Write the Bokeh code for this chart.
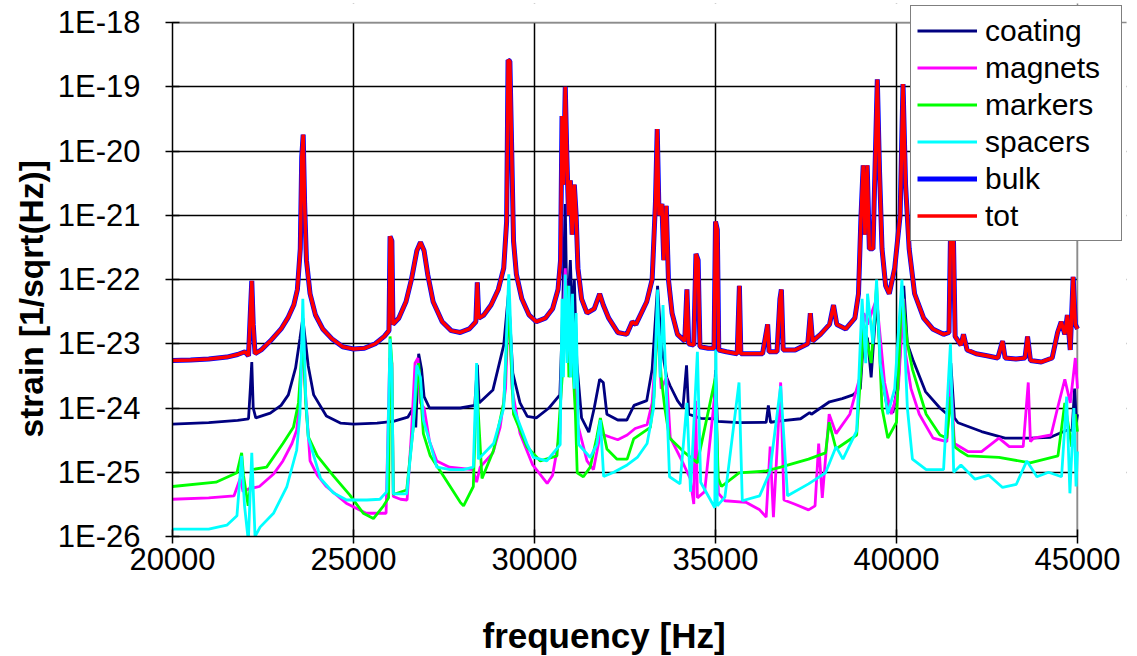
from bokeh.plotting import figure
from bokeh.models import (Range1d, FixedTicker, CustomJSTickFormatter, NumeralTickFormatter,
                          Legend, LegendItem, BoxAnnotation, Span, Title)
from bokeh.embed import file_html
from bokeh.resources import INLINE

# ---------------- data ----------------
tot_freq = [20000, 20500, 21000, 21500, 21800, 22000, 22100, 22150, 22190, 22230, 22280, 22450,
            22700, 23000, 23200, 23350, 23450, 23530, 23570, 23610, 23650, 23700, 23800, 23950,
            24150, 24400, 24700, 25000, 25300, 25600, 25850, 25980, 26010, 26060, 26090, 26250,
            26450, 26600, 26750, 26850, 26950, 27050, 27200, 27450, 27700, 27950, 28200, 28380,
            28420, 28460, 28600, 28800, 29000, 29150, 29230, 29270, 29320, 29360, 29420, 29500,
            29650, 29850, 30050, 30300, 30500, 30650, 30720, 30760, 30800, 30850, 30890, 30940,
            30990, 31040, 31100, 31150, 31200, 31300, 31450, 31650, 31800, 31900, 32050, 32300,
            32550, 32700, 32800, 32950, 33100, 33250, 33340, 33390, 33440, 33520, 33570, 33640,
            33700, 33800, 33950, 34150, 34210, 34260, 34400, 34460, 34520, 34570, 34800, 34960,
            35000, 35050, 35090, 35300, 35600, 35660, 35700, 36000, 36300, 36440, 36480, 36700,
            36780, 36820, 36870, 37200, 37550, 37620, 37680, 37900, 38150, 38260, 38350, 38600,
            38850, 38950, 39020, 39080, 39130, 39190, 39250, 39350, 39470, 39530, 39600, 39700,
            39800, 39950, 40100, 40180, 40250, 40350, 40500, 40750, 41000, 41300, 41450, 41500,
            41560, 41620, 41780, 41850, 41950, 42200, 42500, 42800, 42930, 43000, 43300, 43550,
            43620, 43700, 44000, 44300, 44450, 44550, 44650, 44720, 44800, 44880, 44940, 45000]
tot_vals = [5.5e-24, 5.6e-24, 5.8e-24, 6.2e-24, 6.8e-24, 7.5e-24, 6.5e-24, 3e-23, 9.5e-23, 2e-23, 7e-24, 8e-24,
            1.1e-23, 1.7e-23, 2.6e-23, 4e-23, 7e-23, 3e-22, 8e-21, 1.8e-20, 1.5e-21, 2e-22, 6e-23, 2.8e-23,
            1.7e-23, 1.2e-23, 9e-24, 8.3e-24, 8.5e-24, 1e-23, 1.3e-23, 1.6e-23, 4.7e-22, 4e-22, 2e-23, 2.5e-23,
            4.5e-23, 1e-22, 2.8e-22, 3.8e-22, 2.8e-22, 1.2e-22, 4.5e-23, 2.2e-23, 1.6e-23, 1.5e-23, 1.7e-23, 2.2e-23,
            9e-23, 2.5e-23, 2.8e-23, 4e-23, 7e-23, 1.5e-22, 8e-22, 2.6e-19, 2.5e-19, 2e-20, 4e-22, 1.2e-22,
            5e-23, 2.8e-23, 2.2e-23, 2.5e-23, 3.5e-23, 7e-23, 2e-22, 3.5e-20, 3e-21, 1e-19, 1e-20, 1e-21,
            3.5e-21, 5e-22, 3e-21, 1e-21, 1.5e-22, 5e-23, 3e-23, 3.5e-23, 6e-23, 4e-23, 2.5e-23, 1.5e-23,
            1.4e-23, 2.2e-23, 2e-23, 3e-23, 4.5e-23, 1e-22, 1.5e-21, 2.2e-20, 1e-21, 1.5e-21, 2e-22, 1.4e-21,
            1e-22, 3e-23, 1.4e-23, 1.1e-23, 7e-23, 1e-23, 9.5e-24, 2.5e-22, 2e-22, 9e-24, 8.5e-24, 8.5e-24,
            8e-22, 6e-22, 8e-24, 7.5e-24, 7e-24, 8e-23, 7e-24, 7e-24, 7e-24, 2e-23, 7.5e-24, 7.5e-24,
            5e-23, 7e-23, 8e-24, 8e-24, 1e-23, 3e-23, 1.1e-23, 1.4e-23, 2e-23, 4e-23, 2e-23, 1.7e-23,
            2.5e-23, 6e-23, 1e-21, 6e-21, 5e-22, 6e-21, 3e-22, 3e-22, 1.3e-19, 5e-21, 3e-22, 8e-23,
            6e-23, 1.5e-22, 1e-21, 1.1e-19, 3e-21, 3e-22, 6e-23, 2.5e-23, 1.7e-23, 1.4e-23, 1.5e-23, 1e-21,
            1.2e-21, 1.3e-23, 9.5e-24, 1.4e-23, 8e-24, 7e-24, 6.5e-24, 6e-24, 1.1e-23, 6e-24, 5.8e-24, 6e-24,
            1.3e-23, 5.5e-24, 5.2e-24, 6e-24, 1.5e-23, 2.2e-23, 1.4e-23, 2.8e-23, 8e-24, 1.1e-22, 2e-23, 1.7e-23]

# bulk coincides with tot everywhere in the picture (seen as the blue rim of the red curve)
bulk_freq = list(tot_freq)
bulk_vals = list(tot_vals)

coating_freq = [20000, 21000, 21800, 22100, 22150, 22190, 22230, 22300, 22700, 23000, 23200, 23400,
                23520, 23600, 23680, 23750, 23900, 24250, 24650, 25000, 25650, 26100, 26500, 26650,
                26720, 26800, 26880, 26950, 27100, 27950, 28350, 28420, 28470, 28850, 29150, 29280,
                29400, 29600, 29800, 30050, 30400, 30700, 30760, 30850, 30900, 30990, 31050, 31100,
                31170, 31300, 31500, 31650, 31800, 31900, 32000, 32300, 32550, 32750, 33100, 33250,
                33400, 33500, 33650, 33750, 33950, 34100, 34200, 34260, 34600, 34950, 35000, 35050,
                35650, 36400, 36460, 36520, 36800, 37350, 37600, 37650, 38150, 38500, 38800, 39000,
                39100, 39200, 39300, 39450, 39600, 39760, 39900, 40050, 40200, 40300, 40450, 40800,
                41200, 41400, 41500, 41600, 41700, 42350, 43000, 43700, 44250, 44700, 44850, 44920,
                44970, 45000]
coating_vals = [5.6e-25, 5.9e-25, 6.4e-25, 6.8e-25, 2e-24, 5.2e-24, 1e-24, 7e-25, 8.3e-25, 1.1e-24, 1.6e-24, 4.2e-24,
                1.2e-23, 2.5e-23, 1e-23, 4.5e-24, 1.6e-24, 7.5e-25, 5.8e-25, 5.6e-25, 5.8e-25, 6.2e-25, 7.2e-25, 1e-24,
                5e-25, 7e-24, 4e-24, 1.5e-24, 1e-24, 1e-24, 1.1e-24, 4.7e-24, 1.2e-24, 1.9e-24, 9.5e-24, 6e-23,
                3.5e-24, 1.2e-24, 7.4e-25, 7e-25, 1e-24, 1.6e-24, 1.5e-23, 1.5e-21, 2e-23, 2e-22, 2e-23, 1e-22,
                5e-24, 7e-25, 4.2e-25, 1e-24, 2.8e-24, 2.5e-24, 8e-25, 6.5e-25, 6.5e-25, 1.1e-24, 1.3e-24, 4e-24,
                8e-23, 1e-23, 3e-24, 2.2e-24, 1.3e-24, 1e-24, 4.6e-24, 8e-25, 6.9e-25, 6.8e-25, 3.9e-24, 6.2e-25,
                5.9e-25, 6e-25, 1.1e-24, 6e-25, 6.3e-25, 6.8e-25, 8.5e-25, 8e-25, 1.25e-24, 1.4e-24, 1.6e-24, 2e-24,
                1.5e-23, 1.2e-23, 3e-24, 5e-23, 3e-24, 9e-25, 8.5e-25, 2.5e-24, 8e-23, 1e-23, 5.7e-24, 1.8e-24,
                1e-24, 8e-25, 5e-24, 7e-25, 5.9e-25, 4.3e-25, 3.4e-25, 3.4e-25, 3.5e-25, 4.5e-25, 4.5e-25, 2e-24,
                6e-25, 8e-25]

magnets_freq = [20000, 21000, 21700, 21870, 21950, 22100, 22400, 22800, 23050, 23300, 23430, 23530,
                23600, 23680, 23800, 24000, 24250, 24800, 25350, 25900, 26000, 26060, 26100, 26300,
                26480, 26600, 26700, 26780, 26850, 26950, 27100, 27300, 27650, 28300, 28400, 28500,
                28850, 29050, 29200, 29290, 29380, 29600, 29950, 30350, 30500, 30700, 30760, 30850,
                30950, 31080, 31180, 31450, 31630, 31820, 32100, 32300, 32560, 32780, 33110, 33250,
                33400, 33500, 33650, 33750, 34100, 34300, 34400, 34450, 34500, 34700, 35000, 35080,
                35260, 35840, 36220, 36400, 36510, 36600, 36800, 36890, 37180, 37570, 37750, 37850,
                37950, 38140, 38330, 38710, 39000, 39100, 39200, 39450, 39670, 39860, 40050, 40200,
                40250, 40400, 40630, 41010, 41390, 41500, 41600, 41970, 42350, 42830, 43115, 43500,
                43640, 43700, 43790, 44270, 44450, 44650, 44800, 44940, 45000]
magnets_vals = [3.8e-26, 4e-26, 4.3e-26, 8e-26, 5e-26, 5.5e-26, 6e-26, 9.5e-26, 1.5e-25, 2.8e-25, 4.5e-25, 1.5e-24,
                1.5e-23, 1.5e-24, 1.5e-25, 9e-26, 6e-26, 3.3e-26, 2.3e-26, 2.3e-26, 6e-24, 5e-24, 4.2e-26, 3.8e-26,
                3.7e-26, 4e-25, 5e-24, 6e-24, 1.2e-24, 1e-24, 3e-25, 1.5e-25, 1.2e-25, 1.1e-25, 7e-26, 1.2e-25,
                2e-25, 5e-25, 2e-24, 6e-23, 2e-24, 4e-25, 1.3e-25, 6.7e-26, 9e-26, 4e-25, 1e-23, 1.5e-22,
                5e-24, 5.7e-24, 6e-25, 1.5e-25, 1.1e-25, 4e-25, 3.5e-25, 3.2e-25, 3.8e-25, 4.8e-25, 5.5e-25, 1.2e-24,
                2e-23, 2e-24, 3e-24, 3.5e-25, 1.4e-25, 8e-26, 3.2e-26, 1.3e-24, 4e-26, 5e-26, 2e-24, 4.7e-26,
                3.6e-26, 3.4e-26, 2.6e-26, 2e-26, 2.5e-25, 2e-26, 2.5e-24, 3.7e-26, 3.2e-26, 2.6e-26, 3e-26, 2.8e-25,
                4e-26, 8e-25, 4e-25, 8e-25, 3.2e-24, 3e-23, 2e-23, 5e-23, 2.5e-24, 8e-25, 2e-24, 5e-23,
                7e-24, 2e-24, 8e-25, 3.4e-25, 3e-25, 3e-24, 2.8e-25, 2.1e-25, 2.1e-25, 3.4e-25, 2.5e-25, 2.5e-25,
                2.5e-24, 3e-25, 3.4e-25, 3.8e-25, 1e-24, 2.8e-24, 1.2e-24, 6e-24, 2e-24]

markers_freq = [20000, 21200, 21780, 21910, 21960, 22090, 22200, 22600, 23050, 23340, 23480, 23600,
                23680, 23750, 24000, 24450, 24900, 25270, 25550, 25830, 25970, 26010, 26060, 26100,
                26470, 26650, 26800, 26930, 27120, 27480, 27950, 28040, 28310, 28400, 28550, 28870,
                29150, 29290, 29420, 29790, 30160, 30620, 30800, 30900, 30950, 31000, 31130, 31180,
                31350, 31540, 31720, 31820, 32000, 32280, 32560, 32740, 33200, 33300, 33400, 33500,
                33600, 33730, 34115, 34500, 35000, 35075, 35165, 35650, 36410, 36800, 37570, 38040,
                38140, 38330, 38900, 39100, 39300, 39450, 39600, 39760, 40000, 40150, 40300, 40440,
                40820, 41200, 41390, 41500, 41600, 41780, 41970, 42830, 43690, 44460, 44650, 44840,
                44940, 45000]
markers_vals = [6e-26, 7e-26, 9.8e-26, 2e-25, 9e-26, 3e-26, 1.1e-25, 1.2e-25, 2.8e-25, 5e-25, 1.2e-24, 1.2e-23,
                1.2e-24, 3.6e-25, 1.8e-25, 8.7e-26, 4.4e-26, 2.3e-26, 1.9e-26, 3e-26, 4e-26, 1.3e-23, 5e-24, 4.5e-26,
                5.3e-26, 5e-25, 5e-24, 4e-25, 1.8e-25, 8.8e-26, 3.4e-26, 3e-26, 6e-26, 2.5e-24, 8e-26, 2.2e-25,
                1.2e-24, 4e-23, 8e-25, 2.5e-25, 1.5e-25, 1.8e-25, 6e-24, 8e-23, 3e-24, 2e-23, 8e-25, 9.8e-26,
                8.5e-26, 1.2e-25, 3.5e-25, 7e-25, 2.3e-25, 1.6e-25, 1.6e-25, 3.3e-25, 5e-25, 1.5e-24, 2.5e-23, 3e-24,
                1e-24, 3.4e-25, 2.1e-25, 1.4e-25, 3e-24, 8e-26, 6e-26, 9.8e-26, 1.05e-25, 1.2e-25, 1.6e-25, 2e-25,
                6e-25, 2.3e-25, 3.8e-25, 2e-23, 5e-24, 8e-23, 1e-24, 3.4e-25, 6e-25, 7e-23, 1e-23, 4e-24,
                8e-25, 3.8e-25, 3.4e-25, 1.5e-24, 2.5e-25, 2.1e-25, 1.8e-25, 1.7e-25, 1.4e-25, 1.8e-25, 1.2e-24, 2.5e-25,
                8e-25, 4.3e-25]

spacers_freq = [20000, 21000, 21500, 21780, 21910, 21990, 22095, 22190, 22280, 22420, 22790, 23160,
                23430, 23520, 23600, 23680, 23750, 24090, 24440, 24810, 25370, 25730, 25920, 26010,
                26060, 26100, 26470, 26650, 26750, 26850, 26930, 27120, 27300, 27670, 28040, 28310,
                28400, 28450, 28870, 29150, 29290, 29420, 29790, 29970, 30340, 30710, 30760, 30800,
                30850, 30900, 30950, 31000, 31050, 31100, 31150, 31220, 31540, 31720, 31820, 31910,
                32190, 32560, 32840, 33110, 33290, 33400, 33470, 33550, 33640, 33730, 34020, 34210,
                34310, 34500, 34590, 34980, 35010, 35050, 35260, 35650, 35740, 36220, 36500, 36800,
                36990, 37570, 38040, 38330, 38520, 38900, 39050, 39150, 39200, 39350, 39450, 39550,
                39760, 39950, 40150, 40300, 40440, 40820, 41300, 41490, 41580, 41780, 42170, 42550,
                42930, 43310, 43600, 43880, 44200, 44560, 44700, 44790, 44900, 44960, 45000]
spacers_vals = [1.3e-26, 1.3e-26, 1.5e-26, 2.1e-26, 1.8e-25, 3e-26, 8.5e-27, 2e-25, 1e-26, 1.4e-26, 2.3e-26, 6e-26,
                2.2e-25, 8e-25, 5e-23, 1.5e-24, 3.5e-25, 8e-26, 4.8e-26, 3.7e-26, 3.7e-26, 3.8e-26, 5e-26, 1.2e-23,
                4e-24, 4.6e-26, 4.6e-26, 5e-25, 4.6e-24, 3e-24, 6.5e-25, 2.8e-25, 1.2e-25, 1.1e-25, 1.1e-25, 1.2e-25,
                5e-24, 1.6e-25, 2.8e-25, 1e-24, 1.2e-22, 1e-24, 2.8e-25, 1.7e-25, 1.5e-25, 2.7e-25, 5e-23, 3e-24,
                1.2e-22, 5e-24, 8e-23, 3e-24, 6e-23, 2e-24, 3e-23, 2.7e-25, 1.7e-25, 2.7e-25, 6.5e-25, 8.6e-26,
                1e-25, 1.3e-25, 1.7e-25, 2.8e-25, 1e-24, 7e-23, 3e-24, 4e-23, 2e-24, 8.5e-26, 6.6e-26, 1.2e-24,
                5e-26, 7.5e-24, 7e-26, 2.8e-26, 1.1e-23, 3e-26, 4.1e-26, 2.5e-24, 3.6e-26, 4.3e-26, 1e-25, 2.2e-24,
                4.3e-26, 6.6e-26, 9.8e-26, 2.5e-25, 1.6e-25, 4.4e-25, 5e-23, 5e-24, 6e-23, 1e-23, 1e-22, 5e-24,
                8e-25, 2e-24, 1e-22, 1e-24, 1.6e-25, 1.1e-25, 1.1e-25, 1e-23, 1e-25, 1.3e-25, 7.8e-26, 9e-26,
                5.8e-26, 6.5e-26, 1.5e-25, 8.5e-26, 1e-25, 8.5e-26, 1.5e-24, 4.7e-26, 1e-24, 6e-26, 2.1e-25]

x_ticks = [20000, 25000, 30000, 35000, 40000, 45000]
y_ticks = [1e-26, 1e-25, 1e-24, 1e-23, 1e-22, 1e-21, 1e-20, 1e-19, 1e-18]
x_title = "frequency [Hz]"
y_title = "strain [1/sqrt(Hz)]"

series = [
    ("coating", coating_freq, coating_vals, "#000080", 2.8),
    ("magnets", magnets_freq, magnets_vals, "#FF00FF", 2.8),
    ("markers", markers_freq, markers_vals, "#00FF00", 2.8),
    ("spacers", spacers_freq, spacers_vals, "#00FFFF", 2.8),
    ("bulk", bulk_freq, bulk_vals, "#0000FF", 5),
    ("tot", tot_freq, tot_vals, "#FF0000", 3.5),
]

FONT = "Liberation Sans"
GREY = "#8c8c8c"

# ---------------- layout (pixels) ----------------
# plot area of the reference: x 172..1077, y 22..536; the legend box sticks out
# (x 910..1120, y 7..241), so the frame is enlarged to hold it and the surplus is masked.
FR_L, FR_R, FR_T, FR_B = 172, 1126, 3, 536
AX_R, AX_T = 1077, 22
LEG_L, LEG_B = 910, 241
x0, x1 = x_ticks[0], x_ticks[-1]
y0, y1 = y_ticks[0], y_ticks[-1]
x_end = x0 + (x1 - x0) * (FR_R - FR_L) / (AX_R - FR_L)
y_end = y1 * 10 ** ((AX_T - FR_T) / ((FR_B - AX_T) / 8.0))

p = figure(width=1137, height=656, y_axis_type="log",
           x_range=Range1d(x0, x_end), y_range=Range1d(y0, y_end),
           output_backend="svg", toolbar_location=None,
           min_border_left=FR_L, min_border_right=1137 - FR_R,
           min_border_top=FR_T, min_border_bottom=656 - FR_B)
p.background_fill_color = "white"
p.border_fill_color = "white"
p.outline_line_color = None

p.xgrid.grid_line_color = "black"
p.xgrid.grid_line_width = 1.5
p.ygrid.grid_line_color = "black"
p.ygrid.grid_line_width = 1.5

# mask grid outside the true plot area, then draw its grey top/right border
p.add_layout(BoxAnnotation(left=x1, fill_color="white", fill_alpha=1.0, line_color=None, level="underlay"))
p.add_layout(BoxAnnotation(bottom=y1, fill_color="white", fill_alpha=1.0, line_color=None, level="underlay"))
p.add_layout(Span(location=x1, dimension="height", line_color=GREY, line_width=1.5, level="underlay"))
p.add_layout(Span(location=y1, dimension="width", line_color=GREY, line_width=1.5, level="underlay"))

items = []
for name, f, v, col, lw in series:
    r = p.line(f, v, line_color=col, line_width=lw)
    items.append(LegendItem(label=name, renderers=[r]))

# axes
p.xaxis.ticker = FixedTicker(ticks=x_ticks, minor_ticks=[])
p.xaxis.formatter = NumeralTickFormatter(format="0")
p.xaxis.bounds = (x0, x1)
p.yaxis.ticker = FixedTicker(ticks=y_ticks, minor_ticks=[])
p.yaxis.bounds = (y0, y1)
p.yaxis.formatter = CustomJSTickFormatter(code="""
    const e = Math.round(Math.log10(tick));
    return "1E" + (e < 0 ? "-" : "+") + String(Math.abs(e)).padStart(2, "0");
""")
for ax in (p.xaxis[0], p.yaxis[0]):
    ax.axis_line_color = "black"
    ax.axis_line_width = 1.5
    ax.major_tick_line_color = "black"
    ax.major_tick_line_width = 1.5
    ax.major_tick_in = 7
    ax.major_tick_out = 7
    ax.minor_tick_line_color = None
    ax.major_label_text_font = FONT
    ax.major_label_text_font_size = "31px"
    ax.major_label_text_color = "black"

p.xaxis.major_label_standoff = 4
p.yaxis.major_label_standoff = 25

# invisible spacer under the x tick labels, so that the x title sits as low as in the reference
p.xaxis.axis_label = " "
p.xaxis.axis_label_text_font_size = "1px"
p.xaxis.axis_label_standoff = 36

# axis titles placed where the reference has them (x: starts at px 482; y: spans px 437..118)
p.add_layout(Title(text=x_title, align="left", offset=482 - FR_L, standoff=2,
                   text_font=FONT, text_font_size="35px", text_font_style="bold",
                   text_color="black"), "below")
p.add_layout(Title(text=y_title, align="left", offset=FR_B - 437, standoff=10,
                   text_font=FONT, text_font_size="33.5px", text_font_style="bold",
                   text_color="black"), "left")

legend = Legend(items=items, location=(LEG_L - FR_L, FR_B - LEG_B),
                border_line_color="black", border_line_width=1.5,
                background_fill_color="white", background_fill_alpha=1.0,
                padding=6, spacing=0, margin=0,
                glyph_width=60, glyph_height=37, label_height=37, label_width=130,
                label_standoff=8,
                label_text_font=FONT, label_text_font_size="30px", label_text_color="black")
p.add_layout(legend, "center")

open("out.html", "w").write(file_html(p, INLINE))
